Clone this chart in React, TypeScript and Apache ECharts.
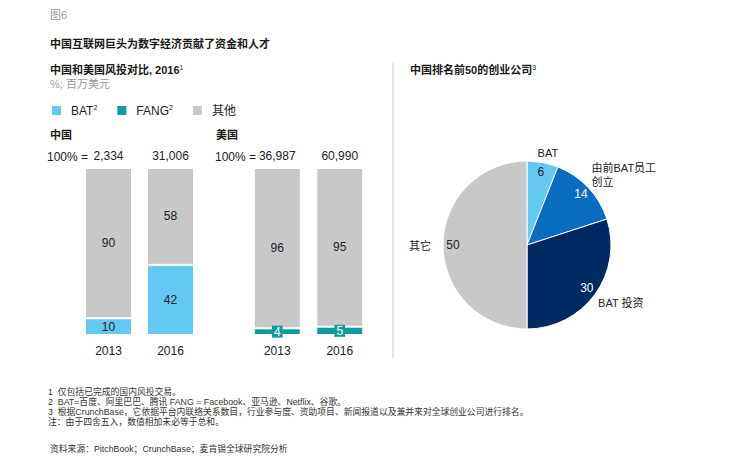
import React, { useEffect, useRef } from "react";
import * as echarts from "echarts";

const years = ["2013", "2016"];
const chinaTotals = ["2,334", "31,006"];
const usTotals = ["36,987", "60,990"];
const chinaBAT = [10, 42];
const chinaOther = [90, 58];
const usFANG = [4, 5];
const usOther = [96, 95];

const pieNames = ["BAT", "由前BAT员工创立", "BAT 投资", "其它"];
const pieLabels = ["BAT", "由前BAT员工\n创立", "BAT 投资", "其它"];
const pieValues = [6, 14, 30, 50];

const FONT = '"Liberation Sans", Arial, "Noto Sans CJK SC", sans-serif';
const C_BAT = "#63C8F2";
const C_FANG = "#0E9CA2";
const C_OTHER = "#C8C8C8";
const PIE_COLORS = ["#63C8F2", "#0A6CC0", "#012A62", "#C8C8C8"];
const PIE_TEXT = ["#222", "#fff", "#fff", "#222"];
const PIE_OFFSETS = [[-7, 0], [-4, -6], [-5, 3], [-2, 1]];
const PIE_R = 84;
const VALUE_LABEL_R = 74;

export default function App() {
  const ref = useRef<HTMLDivElement>(null);
  useEffect(() => {
    if (!ref.current) return;
    const chart = echarts.init(ref.current, null, { renderer: "svg" });
    const txt = (x: number, y: number, text: string, extra: any = {}) => ({
      type: "text",
      x,
      y,
      silent: true,
      style: {
        text,
        fontFamily: FONT,
        fontSize: 11,
        fill: "#1a1a1a",
        verticalAlign: "middle",
        align: "left",
        ...extra,
      },
    });
    const supRich = { sup: { fontSize: 7, fontFamily: FONT, fill: "#1a1a1a", padding: [0, 0, 6, 0] } };
    const footSize = 8.8;
    const catAxis = (gridIndex: number, data: string[], position: "top" | "bottom") => ({
      type: "category",
      gridIndex,
      data,
      position,
      axisLine: { show: false },
      axisTick: { show: false },
      axisLabel: {
        fontFamily: FONT,
        fontSize: 12,
        color: "#222",
        margin: position === "top" ? 6 : 10,
      },
    });
    const valAxis = (gridIndex: number) => ({
      type: "value",
      gridIndex,
      min: 0,
      max: 100,
      show: false,
    });
    const barLabel = { show: true, position: "inside", fontFamily: FONT, fontSize: 12, color: "#222" };
    const total = pieValues.reduce((a, b) => a + b, 0);
    let acc = 0;
    const pieMid = pieValues.map((v) => {
      const m = acc + v / 2;
      acc += v;
      return m;
    });
    const option: any = {
      animation: false,
      backgroundColor: "#fff",
      textStyle: { fontFamily: FONT },
      legend: {
        left: 50,
        top: 104,
        padding: 0,
        itemWidth: 11,
        itemHeight: 11,
        itemGap: 18,
        icon: "rect",
        selectedMode: false,
        data: ["BAT", "FANG", "其他"],
        formatter: (n: string) => (n === "其他" ? "其他" : n + "{sup|2}"),
        textStyle: {
          fontFamily: FONT,
          fontSize: 12,
          color: "#222",
          padding: [0, 0, 0, 4],
          rich: { sup: { fontSize: 7, padding: [0, 0, 6, 0], color: "#222" } },
        },
      },
      grid: [
        { left: 77.5, top: 168, width: 124, height: 167 },
        { left: 246, top: 168, width: 125, height: 167 },
      ],
      polar: { center: [527, 245], radius: PIE_R },
      angleAxis: { type: "value", min: 0, max: total, startAngle: 90, clockwise: true, show: false },
      radiusAxis: { type: "value", min: 0, max: PIE_R, show: false },
      xAxis: [
        catAxis(0, years, "bottom"),
        catAxis(0, chinaTotals, "top"),
        catAxis(1, years, "bottom"),
        catAxis(1, usTotals, "top"),
      ],
      yAxis: [valAxis(0), valAxis(1)],
      series: [
        {
          name: "BAT",
          type: "bar",
          xAxisIndex: 0,
          yAxisIndex: 0,
          stack: "cn",
          barWidth: 47,
          data: chinaBAT,
          itemStyle: { color: C_BAT, borderColor: "#fff", borderWidth: 1 },
          label: barLabel,
        },
        {
          name: "其他",
          type: "bar",
          xAxisIndex: 0,
          yAxisIndex: 0,
          stack: "cn",
          barWidth: 47,
          data: chinaOther,
          itemStyle: { color: C_OTHER, borderColor: "#fff", borderWidth: 1 },
          label: barLabel,
        },
        {
          name: "FANG",
          type: "bar",
          xAxisIndex: 2,
          yAxisIndex: 1,
          stack: "us",
          barWidth: 47,
          data: usFANG,
          itemStyle: { color: C_FANG, borderColor: "#fff", borderWidth: 1 },
          label: {
            show: true,
            position: "inside",
            fontFamily: FONT,
            fontSize: 12,
            color: "#fff",
            backgroundColor: C_FANG,
            padding: [0, 2],
          },
        },
        {
          name: "其他",
          type: "bar",
          xAxisIndex: 2,
          yAxisIndex: 1,
          stack: "us",
          barWidth: 47,
          data: usOther,
          itemStyle: { color: C_OTHER, borderColor: "#fff", borderWidth: 1 },
          label: barLabel,
        },
        {
          name: "pie",
          type: "pie",
          center: [527, 245],
          radius: [0, PIE_R],
          startAngle: 90,
          clockwise: true,
          avoidLabelOverlap: false,
          silent: true,
          itemStyle: { borderColor: "#fff", borderWidth: 1 },
          labelLine: { show: false, length: 10, length2: 0 },
          label: {
            show: true,
            position: "outside",
            distanceToLabelLine: 0,
            fontFamily: FONT,
            fontSize: 11,
            lineHeight: 14,
            color: "#222",
          },
          data: pieValues.map((v, i) => ({
            name: pieNames[i],
            value: v,
            itemStyle: { color: PIE_COLORS[i] },
            label: { formatter: pieLabels[i], offset: PIE_OFFSETS[i] },
          })),
        },
        {
          name: "pieValueLabels",
          type: "scatter",
          coordinateSystem: "polar",
          symbolSize: 0,
          silent: true,
          z: 10,
          itemStyle: { opacity: 1, color: "rgba(0,0,0,0)" },
          label: {
            show: true,
            position: "inside",
            fontFamily: FONT,
            fontSize: 12,
            textBorderWidth: 0,
            opacity: 1,
            formatter: (p: any) => String(pieValues[p.dataIndex]),
          },
          data: pieMid.map((m, i) => ({
            value: [VALUE_LABEL_R, m],
            label: { color: PIE_TEXT[i] },
          })),
        },
      ],
      graphic: [
        txt(50, 15, "图6", { fill: "#999", fontSize: 11 }),
        txt(50, 44, "中国互联网巨头为数字经济贡献了资金和人才", { fontWeight: "bold" }),
        txt(50, 70, "中国和美国风投对比, 2016{sup|1}", { fontWeight: "bold", rich: supRich }),
        txt(50, 84, "%; 百万美元", { fill: "#999" }),
        txt(50, 135, "中国", { fontWeight: "bold" }),
        txt(216, 135, "美国", { fontWeight: "bold" }),
        txt(47, 157, "100% =", { fontSize: 12, fill: "#222" }),
        txt(215, 157, "100% =", { fontSize: 12, fill: "#222" }),
        txt(410, 70, "中国排名前50的创业公司{sup|3}", { fontWeight: "bold", rich: supRich }),
        {
          type: "line",
          silent: true,
          shape: { x1: 393, y1: 62, x2: 393, y2: 358 },
          style: { stroke: "#dddddd", lineWidth: 1.5 },
        },
        txt(48, 392, "1  仅包括已完成的国内风投交易。", { fontSize: footSize, fill: "#333" }),
        txt(48, 402, "2  BAT=百度、阿里巴巴、腾讯 FANG = Facebook、亚马逊、Netflix、谷歌。", { fontSize: footSize, fill: "#333" }),
        txt(48, 412, "3  根据CrunchBase，它依据平台内联络关系数目，行业参与度、资助项目、新闻报道以及兼并来对全球创业公司进行排名。", { fontSize: footSize, fill: "#333" }),
        txt(48, 422, "注：由于四舍五入，数值相加未必等于总和。", { fontSize: footSize, fill: "#333" }),
        txt(50, 449, "资料来源：PitchBook；CrunchBase；麦肯锡全球研究院分析", { fontSize: footSize, fill: "#333" }),
      ],
    };
    chart.setOption(option);
    return () => chart.dispose();
  }, []);
  return (
    <div
      ref={ref}
      style={{ position: "fixed", left: 0, top: 0, width: 740, height: 462 }}
    />
  );
}
